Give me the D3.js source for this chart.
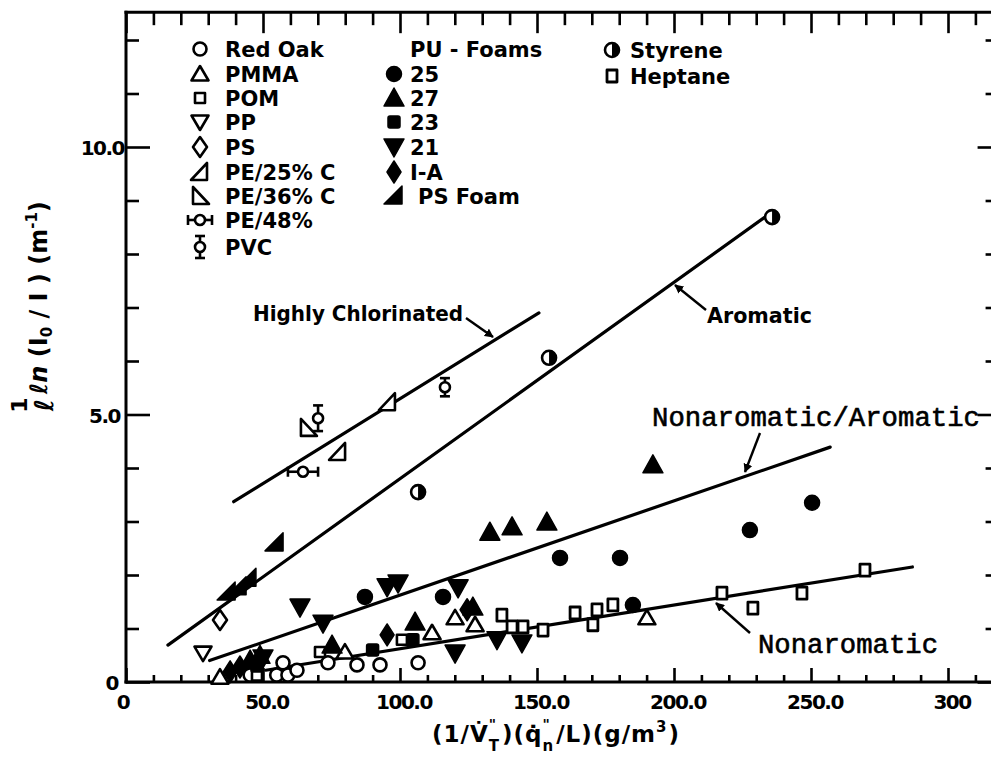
<!DOCTYPE html>
<html><head><meta charset="utf-8">
<script src="https://cdn.jsdelivr.net/npm/d3@7"></script>
<style>body{margin:0;background:#fff}</style>
</head><body>
<svg id="chart" width="991" height="764" xmlns="http://www.w3.org/2000/svg"></svg>
<script>
// ---------- data ----------
const xTickValues = [0, 50, 100, 150, 200, 250, 300];
const xTickLabels = ["0", "50.0", "100.0", "150.0", "200.0", "250.0", "300"];
const yTickValues = [0, 5, 10];
const yTickLabels = ["0", "5.0", "10.0"];

const redOak   = [[45.3,0.13],[55.0,0.13],[57.3,0.36],[59.1,0.13],[62.4,0.22],[73.7,0.36],[84.3,0.32],[92.7,0.32],[106.6,0.36]];
const pmma     = [[34.3,0.09],[79.9,0.56],[111.7,0.92],[120.1,1.20],[127.4,1.07],[190.1,1.20]];
const pom      = [[47.8,0.12],[70.8,0.56],[100.7,0.79]];
const pp       = [[28.1,0.54]];
const ps       = [[34.3,1.16]];
const pe25     = [[77.4,4.30],[95.6,5.23]];
const pe36     = [[66.4,4.75]];
const pe48     = [[64.6,3.93,5.5]];          // x, y, x-error
const pvc      = [[70.1,4.93,0.24],[116.4,5.51,0.17]]; // x, y, y-error
const pu25     = [[87.2,1.59],[115.7,1.59],[158.4,2.32],[180.3,2.32],[185.0,1.44],[227.7,2.84],[250.4,3.35]];
const pu27     = [[45.3,0.41],[48.9,0.50],[75.2,0.69],[105.5,1.12],[126.6,1.40],[132.8,2.80],[140.9,2.90],[153.6,2.99],[192.3,4.06]];
const pu23     = [[47.8,0.30],[90.0,0.60],[104.7,0.79]];
const pu21     = [[50.0,0.45],[63.5,1.40],[71.9,1.10],[95.3,1.78],[99.3,1.85],[121.2,1.76],[120.1,0.54],[135.4,0.79],[144.5,0.73]];
const ia       = [[38.0,0.19],[41.6,0.28],[95.3,0.88],[124.5,1.35]];
const psFoam   = [[36.9,1.68],[40.9,1.78],[44.5,1.94],[54.4,2.60]];
const styrene  = [[106.6,3.55],[154.4,6.06],[235.8,8.69]];
const heptane  = [[137.2,1.25],[140.9,1.03],[144.9,1.03],[152.2,0.97],[163.9,1.29],[170.4,1.07],[171.9,1.35],[177.7,1.44],[217.5,1.66],[228.8,1.38],[246.7,1.66],[269.7,2.09]];

// fitted lines (two end points each)
const lineHighlyChlorinated = [[39.3,3.37],[150.7,6.90]];
const lineAromatic          = [[15.3,0.69],[233.2,8.69]];
const lineNonaroAromatic    = [[30.5,0.40],[257.0,4.39]];
const lineNonaromatic       = [[51.0,0.22],[287.0,2.15]];

// legend entries
const legendCol1 = [["redOak","Red Oak"],["pmma","PMMA"],["pom","POM"],["pp","PP"],["ps","PS"],["pe25","PE/25% C"],["pe36","PE/36% C"],["pe48","PE/48%"],["pvc","PVC"]];
const legendCol2Title = "PU - Foams";
const legendCol2 = [["pu25","25"],["pu27","27"],["pu23","23"],["pu21","21"],["ia","I-A"],["psFoam","PS Foam"]];
const legendCol3 = [["styrene","Styrene"],["heptane","Heptane"]];

// ---------- drawing ----------
const svg = d3.select("#chart");
const X0 = 126, Y0 = 682, PXU = 2.74, PYU = 53.5;
const xMax = 317, yMax = 12.52;
const x = d3.scaleLinear().domain([0, xMax]).range([X0, X0 + xMax * PXU]);
const y = d3.scaleLinear().domain([0, yMax]).range([Y0, Y0 - yMax * PYU]);
const FONT = "'DejaVu Sans', Verdana, sans-serif";

svg.append("rect").attr("width",991).attr("height",764).attr("fill","#fff");

// frame
const frame = svg.append("g").attr("stroke","#000").attr("stroke-width",3).attr("fill","none").attr("stroke-linecap","square");
frame.append("line").attr("x1",x(0)).attr("x2",x(0)).attr("y1",y(0)).attr("y2",y(yMax));
frame.append("line").attr("x1",x(0)).attr("x2",x(xMax)).attr("y1",y(0)).attr("y2",y(0));
frame.append("line").attr("x1",x(0)).attr("x2",x(xMax)).attr("y1",y(yMax)).attr("y2",y(yMax));
frame.append("line").attr("x1",x(xMax)).attr("x2",x(xMax)).attr("y1",y(0)).attr("y2",y(yMax));

// ticks via d3 axes
const xt = d3.range(0, 311, 10);
const yt = d3.range(0, 13, 1);
function styleAxis(g){ g.select(".domain").remove(); g.selectAll("line").attr("stroke","#000").attr("stroke-width",2.6); g.selectAll("text").remove(); }
const bottomAx = svg.append("g").attr("transform",`translate(0,${y(0)})`)
  .call(d3.axisBottom(x).tickValues(xt).tickSize(0)).call(styleAxis);
bottomAx.selectAll(".tick line").attr("y2", d => d % 50 === 0 ? -14 : -7);
const topAx = svg.append("g").attr("transform",`translate(0,${y(yMax)})`)
  .call(d3.axisTop(x).tickValues(xt).tickSize(0)).call(styleAxis);
topAx.selectAll(".tick line").attr("y2", d => d % 50 === 0 ? 21 : 13);
const leftAx = svg.append("g").attr("transform",`translate(${x(0)},0)`)
  .call(d3.axisLeft(y).tickValues(yt).tickSize(0)).call(styleAxis);
leftAx.selectAll(".tick line").attr("x2", d => d % 5 === 0 ? 24 : 13);
const rightAx = svg.append("g").attr("transform",`translate(${x(xMax)},0)`)
  .call(d3.axisRight(y).tickValues(yt).tickSize(0)).call(styleAxis);
rightAx.selectAll(".tick line").attr("x2", d => d % 5 === 0 ? -17 : -9);

// tick labels
svg.append("g").selectAll("text").data(xTickValues).join("text")
  .attr("x", d => x(d) + (d === 0 ? -3 : 4)).attr("y", y(0) + 27)
  .attr("text-anchor","middle").attr("font-family",FONT).attr("font-weight","bold")
  .attr("font-size",20).attr("letter-spacing",-1.5)
  .text((d,i) => xTickLabels[i]);
svg.append("g").selectAll("text").data(yTickValues).join("text")
  .attr("x", d => d === 0 ? 118 : (d === 5 ? 120 : 124)).attr("y", d => y(d) + 8)
  .attr("text-anchor","end").attr("font-family",FONT).attr("font-weight","bold")
  .attr("font-size",20).attr("letter-spacing",-1.5)
  .text((d,i) => yTickLabels[i]);

// fitted lines
const lineGen = d3.line().x(d => x(d[0])).y(d => y(d[1]));
[lineHighlyChlorinated, lineAromatic, lineNonaroAromatic, lineNonaromatic].forEach(L => {
  svg.append("path").attr("d", lineGen(L)).attr("fill","none").attr("stroke","#000")
    .attr("stroke-width",3.2).attr("stroke-linecap","round");
});

// symbols
function drawSymbol(g, type, cx, cy, extra){
  const s = g.append("g").attr("transform",`translate(${cx},${cy})`)
    .attr("stroke","#000").attr("stroke-linejoin","round");
  const open = {fill:"#fff","stroke-width":2.6};
  const filled = {fill:"#000","stroke-width":1.5};
  const ap = (el, o) => { Object.entries(o).forEach(([k,v]) => el.attr(k,v)); return el; };
  switch(type){
    case "redOak": ap(s.append("circle").attr("r",6.5), open); break;
    case "pmma": ap(s.append("path").attr("d","M0,-8L8.5,6.5L-8.5,6.5Z"), open); break;
    case "pom": ap(s.append("rect").attr("x",-5).attr("y",-5).attr("width",10).attr("height",10), open); break;
    case "pp": ap(s.append("path").attr("d","M-8.5,-6.5L8.5,-6.5L0,8Z"), open); break;
    case "ps": ap(s.append("path").attr("d","M0,-10L7,0L0,10L-7,0Z"), open); break;
    case "pe25": ap(s.append("path").attr("d","M7,-9L7,8L-9,8Z"), open); break;
    case "pe36": ap(s.append("path").attr("d","M-7,-9L-7,8L9,8Z"), open); break;
    case "pe48": {
      const e = extra ? extra : 14;
      s.append("line").attr("x1",-e).attr("x2",e).attr("stroke-width",2.6);
      s.append("line").attr("x1",-e).attr("x2",-e).attr("y1",-5).attr("y2",5).attr("stroke-width",2.6);
      s.append("line").attr("x1",e).attr("x2",e).attr("y1",-5).attr("y2",5).attr("stroke-width",2.6);
      ap(s.append("circle").attr("r",5), open); break; }
    case "pvc": {
      const e = extra ? extra : 12;
      s.append("line").attr("y1",-e).attr("y2",e).attr("stroke-width",2.6);
      s.append("line").attr("x1",-5).attr("x2",5).attr("y1",-e).attr("y2",-e).attr("stroke-width",2.6);
      s.append("line").attr("x1",-5).attr("x2",5).attr("y1",e).attr("y2",e).attr("stroke-width",2.6);
      ap(s.append("circle").attr("r",5), open); break; }
    case "pu25": ap(s.append("circle").attr("r",7.5), filled); break;
    case "pu27": ap(s.append("path").attr("d","M0,-10L10,8L-10,8Z"), filled); break;
    case "pu23": ap(s.append("rect").attr("x",-6).attr("y",-6).attr("width",12).attr("height",12).attr("rx",2), filled); break;
    case "pu21": ap(s.append("path").attr("d","M-10,-8L10,-8L0,10Z"), filled); break;
    case "ia": ap(s.append("path").attr("d","M0,-11L7,0L0,11L-7,0Z"), filled); break;
    case "psFoam": ap(s.append("path").attr("d","M8,-10L8,8L-10,8Z"), filled); break;
    case "styrene":
      ap(s.append("circle").attr("r",7), {fill:"#fff","stroke-width":2.6});
      s.append("path").attr("d","M0,-7A7,7 0 0 1 0,7Z").attr("fill","#000").attr("stroke","none");
      break;
    case "heptane": ap(s.append("rect").attr("x",-5).attr("y",-6).attr("width",10).attr("height",12), {fill:"#fff","stroke-width":2.8}); break;
  }
  return s;
}

const pts = svg.append("g");
const series = [["redOak",redOak],["pmma",pmma],["pom",pom],["pp",pp],["ps",ps],["pe25",pe25],["pe36",pe36],
  ["heptane",heptane],["styrene",styrene],["pu25",pu25],["pu27",pu27],["pu23",pu23],["pu21",pu21],["ia",ia],["psFoam",psFoam]];
series.forEach(([t, arr]) => arr.forEach(d => drawSymbol(pts, t, x(d[0]), y(d[1]))));
pe48.forEach(d => drawSymbol(pts, "pe48", x(d[0]), y(d[1]), x(d[0] + d[2]) - x(d[0])));
pvc.forEach(d => drawSymbol(pts, "pvc", x(d[0]), y(d[1]), y(d[1] - d[2]) - y(d[1])));

// legend
const leg = svg.append("g").attr("font-family",FONT).attr("font-weight","bold").attr("font-size",21);
const rowY = [49, 74, 98, 122, 147, 172, 196, 220, 247];
legendCol1.forEach(([t, lab], i) => {
  drawSymbol(leg, t, 200, rowY[i], t === "pe48" ? 12 : (t === "pvc" ? 11 : null));
  leg.append("text").attr("x", 225).attr("y", rowY[i] + 8).text(lab);
});
leg.append("text").attr("x", 410).attr("y", rowY[0] + 8).text(legendCol2Title);
legendCol2.forEach(([t, lab], i) => {
  drawSymbol(leg, t, 394, rowY[i + 1]);
  leg.append("text").attr("x", t === "psFoam" ? 418 : 410).attr("y", rowY[i + 1] + 8).text(lab);
});
legendCol3.forEach(([t, lab], i) => {
  drawSymbol(leg, t, 612, [50, 76][i]);
  leg.append("text").attr("x", 630).attr("y", [50, 76][i] + 8).text(lab);
});

// callouts
svg.append("defs").append("marker").attr("id","ah").attr("viewBox","0 0 10 10")
  .attr("refX",9).attr("refY",5).attr("markerWidth",9).attr("markerHeight",9)
  .attr("markerUnits","userSpaceOnUse").attr("orient","auto")
  .append("path").attr("d","M0,0L10,5L0,10Z").attr("fill","#000");
function arrow(x1,y1,x2,y2){
  svg.append("line").attr("x1",x1).attr("y1",y1).attr("x2",x2).attr("y2",y2)
    .attr("stroke","#000").attr("stroke-width",2.4).attr("marker-end","url(#ah)");
}
svg.append("text").attr("x",253).attr("y",321).attr("font-family",FONT).attr("font-weight","bold")
  .attr("font-size",21).attr("textLength",210).attr("lengthAdjust","spacingAndGlyphs").text("Highly Chlorinated");
arrow(466,318,493,337);
svg.append("text").attr("x",707).attr("y",323).attr("font-family",FONT).attr("font-weight","bold")
  .attr("font-size",21).attr("textLength",105).attr("lengthAdjust","spacingAndGlyphs").text("Aromatic");
arrow(706,310,675,285);
const MONO = "'Liberation Mono','DejaVu Sans Mono',monospace";
svg.append("text").attr("x",652).attr("y",426).attr("font-family",MONO).attr("font-size",27)
  .attr("stroke","#000").attr("stroke-width",0.6).attr("textLength",328).attr("lengthAdjust","spacingAndGlyphs").text("Nonaromatic/Aromatic");
arrow(760,433,745,472);
svg.append("text").attr("x",758).attr("y",653).attr("font-family",MONO).attr("font-size",27)
  .attr("stroke","#000").attr("stroke-width",0.6).attr("textLength",180).attr("lengthAdjust","spacingAndGlyphs").text("Nonaromatic");
arrow(750,633,716,603);

// x axis title, laid out piece by piece
(function(){
  const base = 742;
  let cx = 432;
  const g = svg.append("g").attr("font-family",FONT).attr("font-weight","bold");
  function put(t, size, dy, ls){
    const el = g.append("text").attr("x",cx).attr("y",base + dy).attr("font-size",size)
      .attr("letter-spacing", ls || 1).text(t);
    return el.node().getComputedTextLength();
  }
  function stack(sup, sub){
    const w1 = put(sup, 14, -13, 0);
    const w2 = put(sub, 15, 9, 0);
    cx += Math.max(w1, w2) + 2;
  }
  cx += put("(1/V\u0307", 23, 0);
  stack("\"", "T");
  cx += put(")(q\u0307", 23, 0);
  stack("\"", "n");
  cx += put("/L)(g/m", 23, 0);
  cx += put("3", 15, -10, 0) + 1;
  put(")", 23, 0);
})();

// y axis title (rotated)
const yg = svg.append("g").attr("transform","rotate(-90)").attr("font-family",FONT).attr("font-weight","bold");
yg.append("text").attr("x",-405).attr("y",27).attr("text-anchor","middle").attr("font-size",22).text("1");
yg.append("text").attr("x",-405).attr("y",53).attr("text-anchor","middle").attr("font-size",26).attr("font-style","italic").text("\u2113");
const yt1 = yg.append("text").attr("x",-394).attr("y",47).attr("font-size",24);
yt1.append("tspan").attr("font-style","italic").text("\u2113n");
yt1.append("tspan").text(" (I");
yt1.append("tspan").attr("font-size",15).attr("dy",5).text("0");
yt1.append("tspan").attr("dy",-5).text(" / I ) (m");
yt1.append("tspan").attr("font-size",15).attr("dy",-10).text("-1");
yt1.append("tspan").attr("dy",10).text(")");
</script>
</body></html>
